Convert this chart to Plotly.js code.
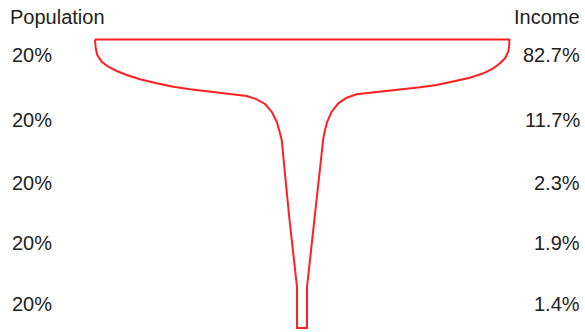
<!DOCTYPE html>
<html>
<head>
<meta charset="utf-8">
<script src="https://cdn.plot.ly/plotly-3.0.1.min.js"></script>
<style>html,body{margin:0;padding:0;background:#fff;}#chart{width:585px;height:332px;}</style>
</head>
<body>
<div id="chart"></div>
<script>
// Data
const populationShare = [20, 20, 20, 20, 20];
const incomeShare = [82.7, 11.7, 2.3, 1.9, 1.4];
const leftTitle = "Population";
const rightTitle = "Income";

// Glass outline (left side top->bottom, then right side bottom->top)
const glassX = [95, 95.7, 97.3, 101.7, 108.3, 116.7, 126.7, 140, 156.7, 173.3, 190, 206.7, 223.3, 236.7, 246.7, 256.7, 265, 271.7, 276.7, 280, 281.7, 289, 297, 297,
                307, 307, 315, 323.3, 325, 327.3, 331.7, 338.3, 346.7, 356.7, 370, 386.7, 403.3, 420, 436.7, 453.3, 470, 483.3, 493.3, 500, 505, 508.3, 509.3, 509.3, 95];
const glassY = [39.5, 48.3, 55, 61.7, 66.7, 71, 75, 79.3, 83.3, 86.7, 89.3, 91.3, 93, 94.3, 96, 99.3, 104, 111.7, 121.7, 133.3, 140, 215, 287, 328,
                328, 287, 215, 138.3, 130, 121.7, 111.7, 103.3, 97.7, 94.3, 92.7, 91, 89.3, 87.3, 85, 81.7, 77.7, 73.3, 68.3, 63.3, 58.3, 51.7, 45, 39.5, 39.5];

// Layout constants
const rowY = [55, 120, 183, 243, 304];
const font = {family: "Liberation Sans, Arial, sans-serif", size: 20, color: "#222"};

const annotations = [];
annotations.push({x: 8, y: 17, text: leftTitle, xanchor: "left", yanchor: "middle"});
annotations.push({x: 582, y: 17, text: rightTitle, xanchor: "right", yanchor: "middle"});
populationShare.forEach((v, i) => {
  annotations.push({x: 10, y: rowY[i], text: v + "%", xanchor: "left", yanchor: "middle"});
});
incomeShare.forEach((v, i) => {
  annotations.push({x: 582, y: rowY[i], text: v.toFixed(1) + "%", xanchor: "right", yanchor: "middle"});
});
annotations.forEach(a => { a.xref = "x"; a.yref = "y"; a.showarrow = false; a.font = font; });

const trace = {
  x: glassX, y: glassY, type: "scatter", mode: "lines",
  line: {color: "#ff2020", width: 2, shape: "linear"},
  hoverinfo: "skip"
};

const layout = {
  width: 585, height: 332,
  margin: {l: 0, r: 0, t: 0, b: 0},
  paper_bgcolor: "#fff", plot_bgcolor: "#fff",
  showlegend: false,
  xaxis: {range: [0, 585], visible: false, fixedrange: true},
  yaxis: {range: [332, 0], visible: false, fixedrange: true},
  annotations: annotations
};

Plotly.newPlot("chart", [trace], layout, {staticPlot: true, displayModeBar: false});
</script>
</body>
</html>
